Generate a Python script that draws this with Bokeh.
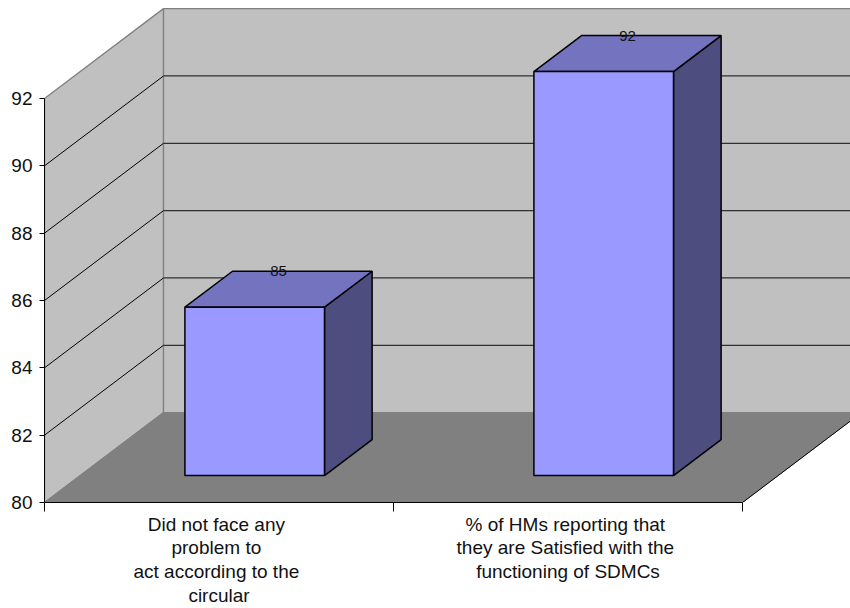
from bokeh.core.properties import value as fixed
from bokeh.embed import file_html
from bokeh.models import FixedTicker, LinearAxis, Range1d
from bokeh.plotting import figure
from bokeh.resources import INLINE

# Chart content
category_labels = [
    "Did not face any\u00a0\nproblem to\u00a0\nact according to the\u00a0\ncircular",
    "% of HMs reporting that\u00a0\nthey are Satisfied with the\u00a0\nfunctioning of SDMCs",
]
percent_values = [85, 92]
value_ticks = [80, 82, 84, 86, 88, 90, 92]

# Oblique projection: how far the chart's full depth shifts a point,
# in category units across and value units up
BASE = 80
TOP = 92
DEPTH_X = 0.341
DEPTH_Y = 2.67
BAR_WIDTH = 0.4
BAR_NEAR = 0.3
BAR_FAR = 0.7
CATEGORY_COUNT = len(percent_values)

WALL = "#C0C0C0"
FLOOR = "#808080"
FRONT = "#9999FF"
TOP_FACE = "#7373BF"
SIDE_FACE = "#4D4D80"
FONT = "Liberation Sans"


def project(cat, val, depth):
    return cat + depth * DEPTH_X, val + depth * DEPTH_Y


def face(p, corners, fill, line="black", width=1.5):
    xs, ys = zip(*[project(*c) for c in corners])
    p.patch(list(xs), list(ys), fill_color=fill, line_color=line, line_width=width)


p = figure(
    width=850, height=608, output_backend="svg", toolbar_location=None,
    x_range=Range1d(0, 806 / 349), y_range=Range1d(BASE, BASE + 502.5 / 33.7),
    min_border_left=44, min_border_right=0, min_border_top=0, min_border_bottom=105,
    x_axis_location=None, y_axis_location=None,
)
p.outline_line_color = None
p.grid.visible = False
p.background_fill_color = "white"

# Side wall, back wall and floor
face(p, [(0, BASE, 0), (0, BASE, 1), (0, TOP, 1), (0, TOP, 0)], WALL, FLOOR, 1.3)
face(p, [(0, BASE, 1), (CATEGORY_COUNT, BASE, 1), (CATEGORY_COUNT, TOP, 1), (0, TOP, 1)], WALL, FLOOR, 1.3)

# Gridlines run along the side wall, then across the back wall
for tick in value_ticks[1:-1]:
    xs, ys = zip(project(0, tick, 0), project(0, tick, 1))
    p.line(list(xs), list(ys), line_color="black", line_width=1)
    xs, ys = zip(project(0, tick, 1), project(CATEGORY_COUNT, tick, 1))
    p.line(list(xs), list(ys), line_color="#303030", line_width=1.2)

face(p, [(0, BASE, 0), (CATEGORY_COUNT, BASE, 0), (CATEGORY_COUNT, BASE, 1), (0, BASE, 1)], FLOOR, FLOOR, 1)
xs, ys = zip(project(CATEGORY_COUNT, BASE, 0), project(CATEGORY_COUNT, BASE, 1))
p.line(list(xs), list(ys), line_color="black", line_width=1)

# Bars as three visible faces of a box, with their value label
for i, val in enumerate(percent_values):
    left = i + 0.5 - BAR_WIDTH / 2
    right = i + 0.5 + BAR_WIDTH / 2
    face(p, [(right, BASE, BAR_NEAR), (right, BASE, BAR_FAR), (right, val, BAR_FAR), (right, val, BAR_NEAR)], SIDE_FACE)
    face(p, [(left, val, BAR_NEAR), (right, val, BAR_NEAR), (right, val, BAR_FAR), (left, val, BAR_FAR)], TOP_FACE)
    face(p, [(left, BASE, BAR_NEAR), (right, BASE, BAR_NEAR), (right, val, BAR_NEAR), (left, val, BAR_NEAR)], FRONT)
    lx, _ = project(i + 0.5, val, 0.5)
    _, ly = project(i + 0.5, val, BAR_FAR)
    p.text([lx], [ly], text=[str(val)], text_font=fixed(FONT), text_font_size="15px",
           text_color="#111111", text_align="center", text_baseline="middle")

# Value axis along the front edge of the side wall
y_axis = LinearAxis(
    ticker=FixedTicker(ticks=value_ticks), bounds=(BASE, TOP),
    axis_line_color="black", major_tick_line_color="black",
    major_tick_out=5, major_tick_in=0, minor_tick_out=0, minor_tick_in=0,
    major_label_text_font=FONT, major_label_text_font_size="19px",
    major_label_text_color="#111111", major_label_standoff=7,
)
p.add_layout(y_axis, "left")

# Category axis: labels at the centres, short separators at the category edges
x_axis = LinearAxis(
    ticker=FixedTicker(
        ticks=[i + 0.5 for i in range(CATEGORY_COUNT)],
        minor_ticks=list(range(CATEGORY_COUNT + 1)),
    ),
    major_label_overrides={i + 0.5: t for i, t in enumerate(category_labels)},
    bounds=(0, CATEGORY_COUNT),
    axis_line_color="black", minor_tick_line_color="black",
    major_tick_line_color=None, major_tick_out=0, major_tick_in=0,
    minor_tick_out=9, minor_tick_in=0,
    major_label_text_font=FONT, major_label_text_font_size="19px",
    major_label_text_color="#111111", major_label_standoff=2,
    major_label_text_line_height=1.13,
)
p.add_layout(x_axis, "below")

open("out.html", "w").write(file_html(p, INLINE))
